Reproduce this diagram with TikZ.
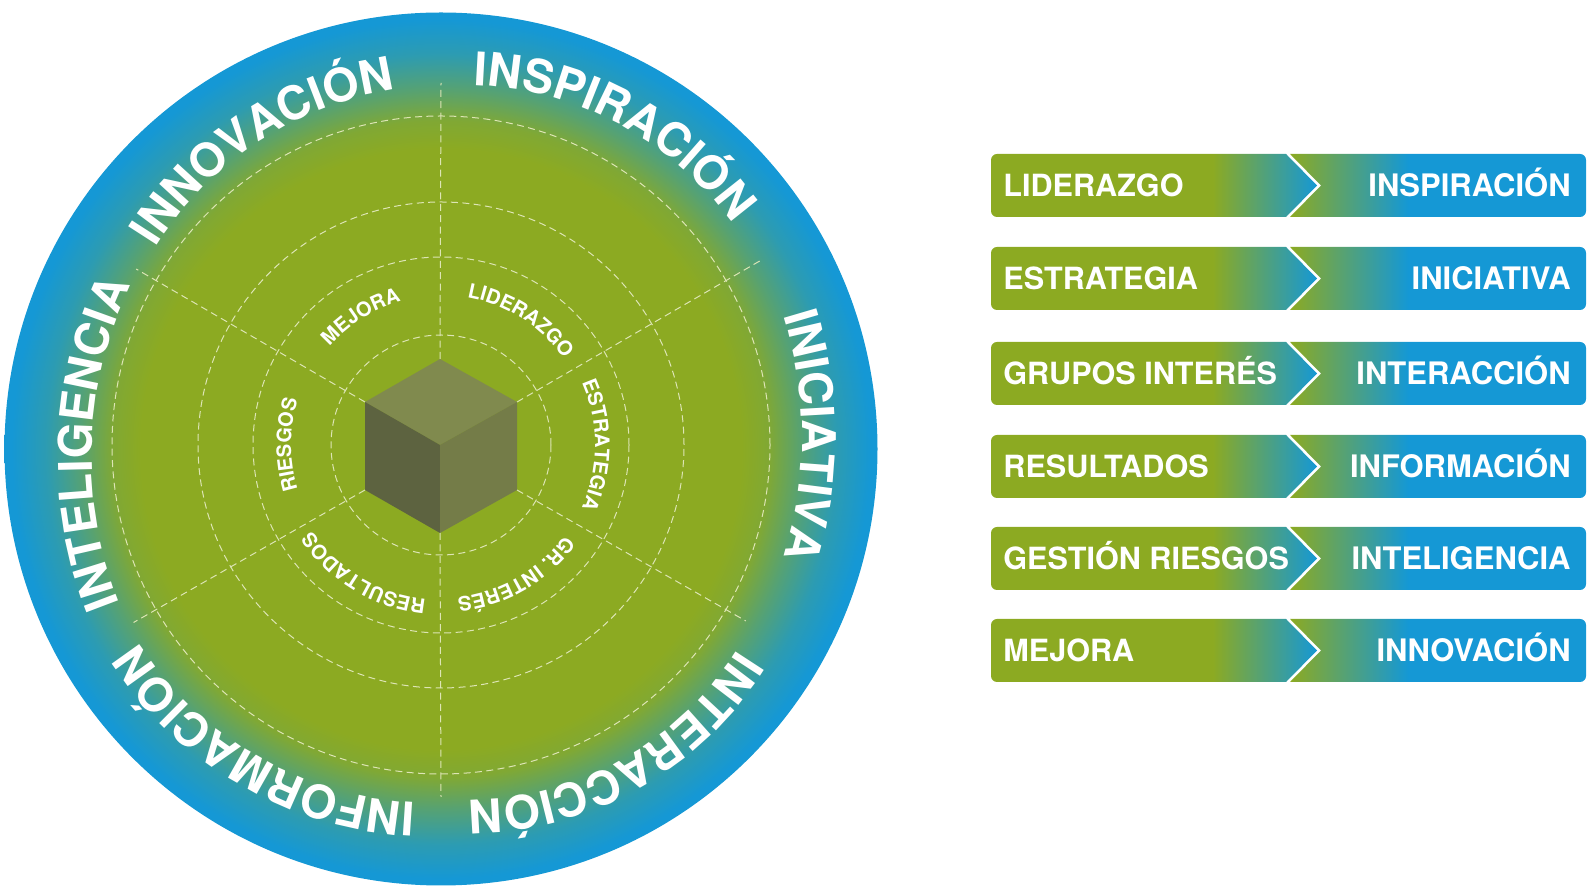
\documentclass[tikz,border=0pt]{standalone}
\usepackage{fontspec}
\usetikzlibrary{decorations.text}
\setmainfont{TeX Gyre Heros}
\definecolor{leafgreen}{HTML}{8CAA22}
\definecolor{seablue}{HTML}{1598D5}
\definecolor{gridline}{HTML}{DDE5B5}
\colorlet{fadeone}{leafgreen!90!seablue}
\colorlet{fadetwo}{leafgreen!55!seablue}
\colorlet{fadethree}{leafgreen!20!seablue}
\newcommand{\bigletters}{\fontsize{23.2}{24}\selectfont\bfseries\color{white}}
\newcommand{\smallletters}{\fontsize{10}{11}\selectfont\bfseries\color{white}}
\pgfdeclareradialshading{ringfade}{\pgfpoint{0bp}{0bp}}{color(0bp)=(leafgreen); color(17.2bp)=(leafgreen); color(18.8bp)=(fadeone); color(20.6bp)=(fadetwo); color(22.6bp)=(fadethree); color(24.6bp)=(seablue); color(50bp)=(seablue)}
\pgfdeclarehorizontalshading{bandleft}{100bp}{color(0bp)=(leafgreen); color(59bp)=(leafgreen); color(75bp)=(seablue); color(100bp)=(seablue)}
\pgfdeclarehorizontalshading{bandright}{100bp}{color(0bp)=(leafgreen); color(25bp)=(leafgreen); color(45bp)=(seablue); color(100bp)=(seablue)}
\tikzset{
  grid dash/.style={draw=gridline, line width=0.5pt, dash pattern=on 3.5pt off 2.2pt},
  bandtext/.style={text=white, font=\fontsize{15.3}{16}\selectfont\bfseries, inner sep=0pt},
  bandtextright/.style={bandtext, font=\fontsize{15.5}{16}\selectfont\bfseries},
}
\begin{document}
\begin{tikzpicture}[x=0.5pt, y=0.5pt, yscale=1, xscale=1]
\useasboundingbox (0, 0) rectangle (1591, 894);
\coordinate (hub) at (441, 449);
\shade [shading=ringfade] (441, 445) circle (436.5);
% Rings
\foreach \rad in {110, 188, 243, 329}
  \draw [grid dash] (hub) circle (\rad);
% Cube
\coordinate (cubetop) at (440, 535);
\coordinate (cubeupright) at (517, 492);
\coordinate (cubelowright) at (517, 404);
\coordinate (cubelow) at (440, 361);
\coordinate (cubelowleft) at (365, 404);
\coordinate (cubeupleft) at (365, 492);
\coordinate (cubemid) at (440, 449);
\fill [color={rgb,255:red,128;green,138;blue,78}] (cubetop) -- (cubeupright) -- (cubemid) -- (cubeupleft) -- cycle;
\fill [color={rgb,255:red,93;green,99;blue,64}] (cubeupleft) -- (cubemid) -- (cubelow) -- (cubelowleft) -- cycle;
\fill [color={rgb,255:red,116;green,124;blue,72}] (cubeupright) -- (cubemid) -- (cubelow) -- (cubelowright) -- cycle;
% Spokes
\foreach \from/\ang/\len in {cubetop/90/362, cubeupright/30/370, cubelowright/-30/352, cubelow/-90/352, cubelowleft/-150/355, cubeupleft/150/352}
  \draw [grid dash] (\from) -- ([shift={(\ang:\len)}]hub);
% Text
\foreach \cx/\cy/\rad/\ang/\word in {462/476/333/61.8/INSPIRACIÓN, 398/458/404/0/INICIATIVA, 466/414/320/-60.8/INTERACCIÓN, 432.4/441/350/-120/INFORMACIÓN, 486.8/437/395/178/INTELIGENCIA, 445/468/340/123.3/INNOVACIÓN}
  \path [decorate, decoration={text along path, text align=center, text/.expanded={|\noexpand\bigletters|\word}}]
    ([shift={(\ang+45:\rad)}]\cx, \cy) arc (\ang+45:\ang-45:\rad);
\foreach \ang/\rad/\word in {57.5/150/LIDERAZGO, 0/154/ESTRATEGIA, -60/153/GR. INTERÉS, -121/155/RESULTADOS, 180/150/RIESGOS, 122/149/MEJORA}
  \path [decorate, decoration={text along path, text align=center, text/.expanded={|\noexpand\smallletters|\word}}]
    ([shift={(\ang+50:\rad)}]hub) arc (\ang+50:\ang-50:\rad);
% Bands
\foreach \ytop/\tag/\lword/\rword in {740/lead/LIDERAZGO/INSPIRACIÓN, 647/plan/ESTRATEGIA/INICIATIVA, 552/group/GRUPOS INTERÉS/INTERACCIÓN, 459/result/RESULTADOS/INFORMACIÓN, 367/risk/GESTIÓN RIESGOS/INTELIGENCIA, 275/better/MEJORA/INNOVACIÓN}{
  \shade [shading=bandleft] (1286, \ytop) -- (1317, \ytop-31.5) -- (1286, \ytop-63) [rounded corners=3] -- (991, \ytop-63) -- (991, \ytop) [sharp corners] -- cycle;
  \shade [shading=bandright] (1290, \ytop-63) -- (1321, \ytop-31.5) -- (1290, \ytop) [rounded corners=3] -- (1586, \ytop) -- (1586, \ytop-63) [sharp corners] -- cycle;
  \node (\tag left) [bandtext, anchor=base west] at (1003, \ytop-42.5) {\lword};
  \node (\tag right) [bandtextright, anchor=base east] at (1571, \ytop-42.5) {\rword};
}
\end{tikzpicture}
\end{document}
